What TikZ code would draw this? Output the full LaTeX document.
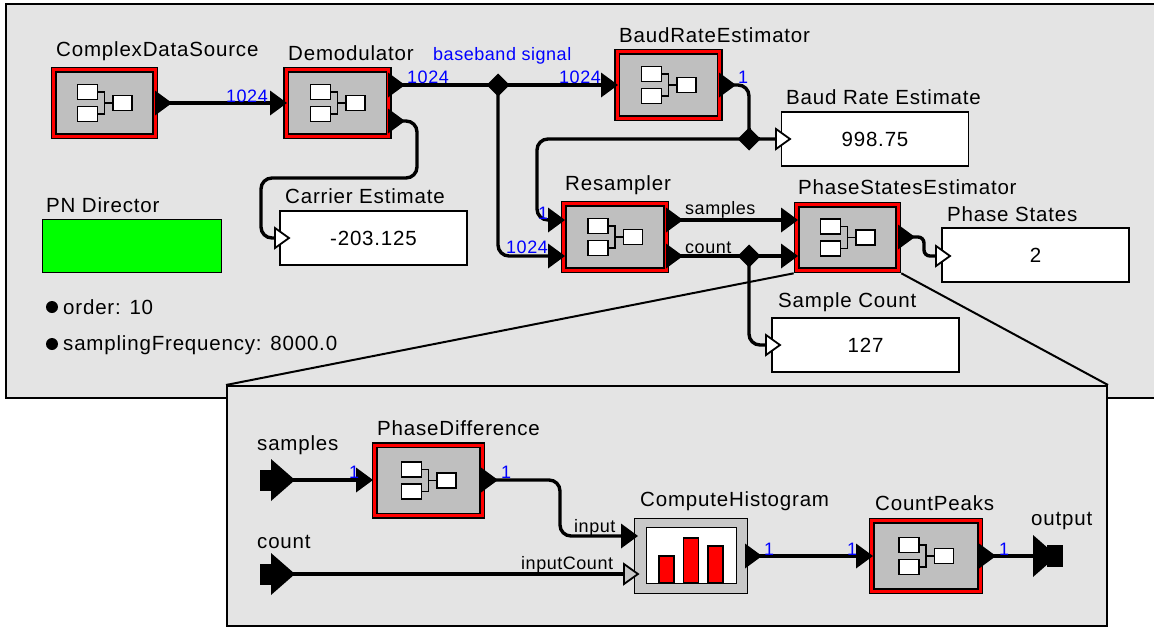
\documentclass[tikz,border=0pt]{standalone}
\usepackage{fontspec}
\setmainfont{Liberation Sans}
\newfontfamily\titlefont[LetterSpace=4]{Liberation Sans}
\newfontfamily\portfont[LetterSpace=3]{Liberation Sans}
\usetikzlibrary{shapes.geometric}

\definecolor{panelgray}{HTML}{E4E4E4}
\definecolor{bodygray}{HTML}{BFBFBF}
\definecolor{histgray}{HTML}{C8C8C8}

\tikzset{
	panel/.style={draw=black, fill=panelgray, line width=2pt, inner sep=0pt},
	frame/.style={draw=black, fill=red, line width=1.6pt, inner sep=0pt},
	body/.style={draw=black, fill=bodygray, line width=1.4pt, inner sep=0pt},
	iconbox/.style={draw=black, fill=white, line width=1.2pt, inner sep=0pt, minimum width=20pt, minimum height=15pt},
	display/.style={draw=black, fill=white, line width=1.2pt, inner sep=0pt, minimum width=187pt, minimum height=54pt, font=\titlefont\fontsize{20.5}{24}\selectfont},
	title/.style={anchor=base west, inner sep=0pt, font=\titlefont\fontsize{20.5}{24}\selectfont},
	small/.style={anchor=base west, inner sep=0pt, font=\portfont\fontsize{18}{22}\selectfont},
	rate/.style={small, text=blue},
	wire/.style={draw=black, line width=3.4pt, rounded corners=11pt},
	outport/.style={isosceles triangle, isosceles triangle stretches, fill=black, inner sep=0pt, outer sep=0pt, minimum height=17pt, minimum width=25pt, anchor=lower side},
	inport/.style={outport, anchor=apex},
	openport/.style={outport, anchor=apex, draw=black, fill=white, line width=1.8pt, minimum height=14pt, minimum width=20pt},
	bigport/.style={outport, minimum height=24pt, minimum width=42pt},
	relation/.style={diamond, fill=black, inner sep=0pt, outer sep=0pt, minimum width=23pt, minimum height=23pt},
	bullet/.style={circle, fill=black, inner sep=0pt, minimum size=12pt},
}

\newcommand{\actor}[5]{
	\node[frame, minimum width=#4 pt, minimum height=#5 pt] (#1) at (#2,#3) {};
	\node[body, minimum width=#4 pt - 9pt, minimum height=#5 pt - 9pt] (#1-body) at (#1) {};
	\node[iconbox] (#1-a) at (#2-17,#3-11) {};
	\node[iconbox] (#1-b) at (#2-17,#3+11) {};
	\node[iconbox, minimum width=19pt] (#1-c) at (#2+18,#3) {};
	\coordinate (#1-j) at (#2,#3);
	\draw[line width=1.2pt] (#1-a.east) -| (#1-j) |- (#1-b.east);
	\draw[line width=1.2pt] (#1-j) -- (#1-c.west);
}

\begin{document}
\begin{tikzpicture}[x=1pt, y=-1pt]
	\useasboundingbox (0,0) rectangle (1154,627);

	\node[panel, minimum width=1160pt, minimum height=394pt] (toplevel) at (586,201) {};

	\actor{source}{104.5}{103}{106}{71}
	\actor{demod}{337.5}{103}{107}{71}
	\actor{baud}{668.5}{85}{107}{71}
	\actor{resampler}{615}{237}{107}{71}
	\actor{phase}{847.5}{237.5}{106}{70}

	\node[title] (source-title) at (56,56) {ComplexDataSource};
	\node[title] (demod-title) at (288,60) {Demodulator};
	\node[title] (baud-title) at (619,42) {BaudRateEstimator};
	\node[title] (resampler-title) at (565,190) {Resampler};
	\node[title] (phase-title) at (798,194) {PhaseStatesEstimator};

	\node[display] (carrier) at (373.5,238) {-203.125};
	\node[display] (baudest) at (875,139) {998.75};
	\node[display] (states) at (1035.5,255) {2};
	\node[display] (count) at (865.5,345) {127};
	\node[title] (carrier-title) at (285,203) {Carrier Estimate};
	\node[title] (baudest-title) at (786,104) {Baud Rate Estimate};
	\node[title] (states-title) at (947,221) {Phase States};
	\node[title] (count-title) at (778,307) {Sample Count};

	\node[draw=black, fill=green, line width=1.4pt, inner sep=0pt, minimum width=179pt, minimum height=53pt] (director) at (132,246) {};
	\node[title] (director-title) at (46,212) {PN Director};
	\node[bullet] (order-dot) at (52,307) {};
	\node[bullet] (freq-dot) at (52,344) {};
	\node[title] (order) at (63,314) {order: 10};
	\node[title] (freq) at (63,350) {samplingFrequency: 8000.0};

	\node[outport] (source-o) at (155,103) {};
	\node[inport] (demod-i) at (287,103) {};
	\node[outport] (demod-o1) at (388,85) {};
	\node[outport] (demod-o2) at (388,121) {};
	\node[inport] (baud-i) at (618,85) {};
	\node[outport] (baud-o) at (719,85) {};
	\node[inport] (resampler-i1) at (565,220) {};
	\node[inport] (resampler-i2) at (565,256) {};
	\node[outport] (resampler-o1) at (666,220) {};
	\node[outport] (resampler-o2) at (666,256) {};
	\node[inport] (phase-i1) at (798,220) {};
	\node[inport] (phase-i2) at (798,256) {};
	\node[outport] (phase-o) at (898,237) {};
	\node[openport] (carrier-i) at (289,238) {};
	\node[openport] (baudest-i) at (790,139) {};
	\node[openport] (states-i) at (950,256) {};
	\node[openport] (count-i) at (780,345) {};
	\node[relation] (baseband) at (498,85) {};
	\node[relation] (baudsplit) at (749,139) {};
	\node[relation] (countsplit) at (749,256) {};

	\draw[wire] (source-o.center) -- (demod-i.center);
	\draw[wire] (demod-o1.center) -- (baseband.center) -- (baud-i.center);
	\draw[wire] (baseband.center) -- (498,256) -- (resampler-i2.center);
	\draw[wire] (demod-o2.center) -- (417,121) -- (417,178) -- (261,178) -- (261,238) -- (carrier-i.lower side);
	\draw[wire] (baud-o.center) -- (749,85) -- (baudsplit.center) -- (baudest-i.lower side);
	\draw[wire] (baudsplit.center) -- (537,139) -- (537,220) -- (resampler-i1.center);
	\draw[wire] (resampler-o1.center) -- (phase-i1.center);
	\draw[wire] (resampler-o2.center) -- (countsplit.center) -- (phase-i2.center);
	\draw[wire] (countsplit.center) -- (749,345) -- (count-i.lower side);
	\draw[wire, rounded corners=6pt] (phase-o.center) -- (924,237) -- (924,256) -- (states-i.lower side);

	\node[rate, anchor=base east] (source-rate) at (268,102) {1024};
	\node[rate] (demod-rate) at (407,83) {1024};
	\node[rate] (baseband-label) at (433,60) {baseband signal};
	\node[rate] (baud-rate) at (559,83) {1024};
	\node[rate] (baudout-rate) at (738,83) {1};
	\node[rate] (resampler-rate1) at (538,219) {1};
	\node[rate] (resampler-rate2) at (506,253) {1024};
	\node[small] (samples-label) at (685,214) {samples};
	\node[small] (count-label) at (685,253) {count};

	\node[panel, minimum width=880pt, minimum height=240pt] (zoombox) at (667,506) {};
	\draw[line width=2pt] (phase.south west) -- (zoombox.north west);
	\draw[line width=2pt] (phase.south east) -- (zoombox.north east);

	\actor{difference}{428.5}{480.5}{112}{75}
	\actor{peaks}{926}{556}{113}{75}
	\node[title] (difference-title) at (377,435) {PhaseDifference};
	\node[title] (peaks-title) at (875,510) {CountPeaks};
	\node[title] (histogram-title) at (640,506) {ComputeHistogram};
	\node[title] (samples-title) at (257,450) {samples};
	\node[title] (count-title) at (257,548) {count};
	\node[title] (output-title) at (1031,525) {output};

	\node[draw=black, fill=histgray, line width=1.4pt, inner sep=0pt, minimum width=113pt, minimum height=75pt] (histogram) at (691,556) {};
	\node[draw=black, fill=white, line width=1.4pt, inner sep=0pt, minimum width=90pt, minimum height=56pt] (histogram-plot) at (691.5,555.5) {};
	\node[draw=black, fill=red, line width=1.4pt, inner sep=0pt, anchor=south, minimum width=15pt, minimum height=27pt] (bar-a) at (666.5,583.5) {};
	\node[draw=black, fill=red, line width=1.4pt, inner sep=0pt, anchor=south, minimum width=15pt, minimum height=45pt] (bar-b) at (691,583.5) {};
	\node[draw=black, fill=red, line width=1.4pt, inner sep=0pt, anchor=south, minimum width=15pt, minimum height=37pt] (bar-c) at (715.5,583.5) {};

	\node[draw=none, fill=black, inner sep=0pt, minimum width=12pt, minimum height=21pt] (samples-tail) at (266,480) {};
	\node[bigport] (samples-port) at (271,480) {};
	\node[draw=none, fill=black, inner sep=0pt, minimum width=12pt, minimum height=21pt] (count-tail) at (266,574) {};
	\node[bigport] (count-port) at (271,574) {};
	\node[draw=none, fill=black, inner sep=0pt, minimum width=16pt, minimum height=22pt] (output-tail) at (1055,556) {};
	\node[bigport] (output-port) at (1033,556) {};

	\node[inport] (difference-i) at (373,480) {};
	\node[outport] (difference-o) at (481,480) {};
	\node[inport] (histogram-i1) at (638,536) {};
	\node[openport, fill=histgray] (histogram-i2) at (638,574) {};
	\node[outport] (histogram-o) at (745,556) {};
	\node[inport] (peaks-i) at (873,556) {};
	\node[outport] (peaks-o) at (979,556) {};

	\draw[wire] (samples-port.center) -- (difference-i.center);
	\draw[wire] (difference-o.center) -- (560,480) -- (560,536) -- (histogram-i1.center);
	\draw[wire] (count-port.center) -- (histogram-i2.lower side);
	\draw[wire] (histogram-o.center) -- (peaks-i.center);
	\draw[wire] (peaks-o.center) -- (output-port.center);

	\node[small] (input-label) at (574,532) {input};
	\node[small] (inputcount-label) at (521,569) {inputCount};
	\node[rate] (difference-rate1) at (349,478) {1};
	\node[rate] (difference-rate2) at (501,478) {1};
	\node[rate] (histogram-rate) at (764,555) {1};
	\node[rate] (peaks-rate1) at (847,555) {1};
	\node[rate] (peaks-rate2) at (999,555) {1};
\end{tikzpicture}
\end{document}
